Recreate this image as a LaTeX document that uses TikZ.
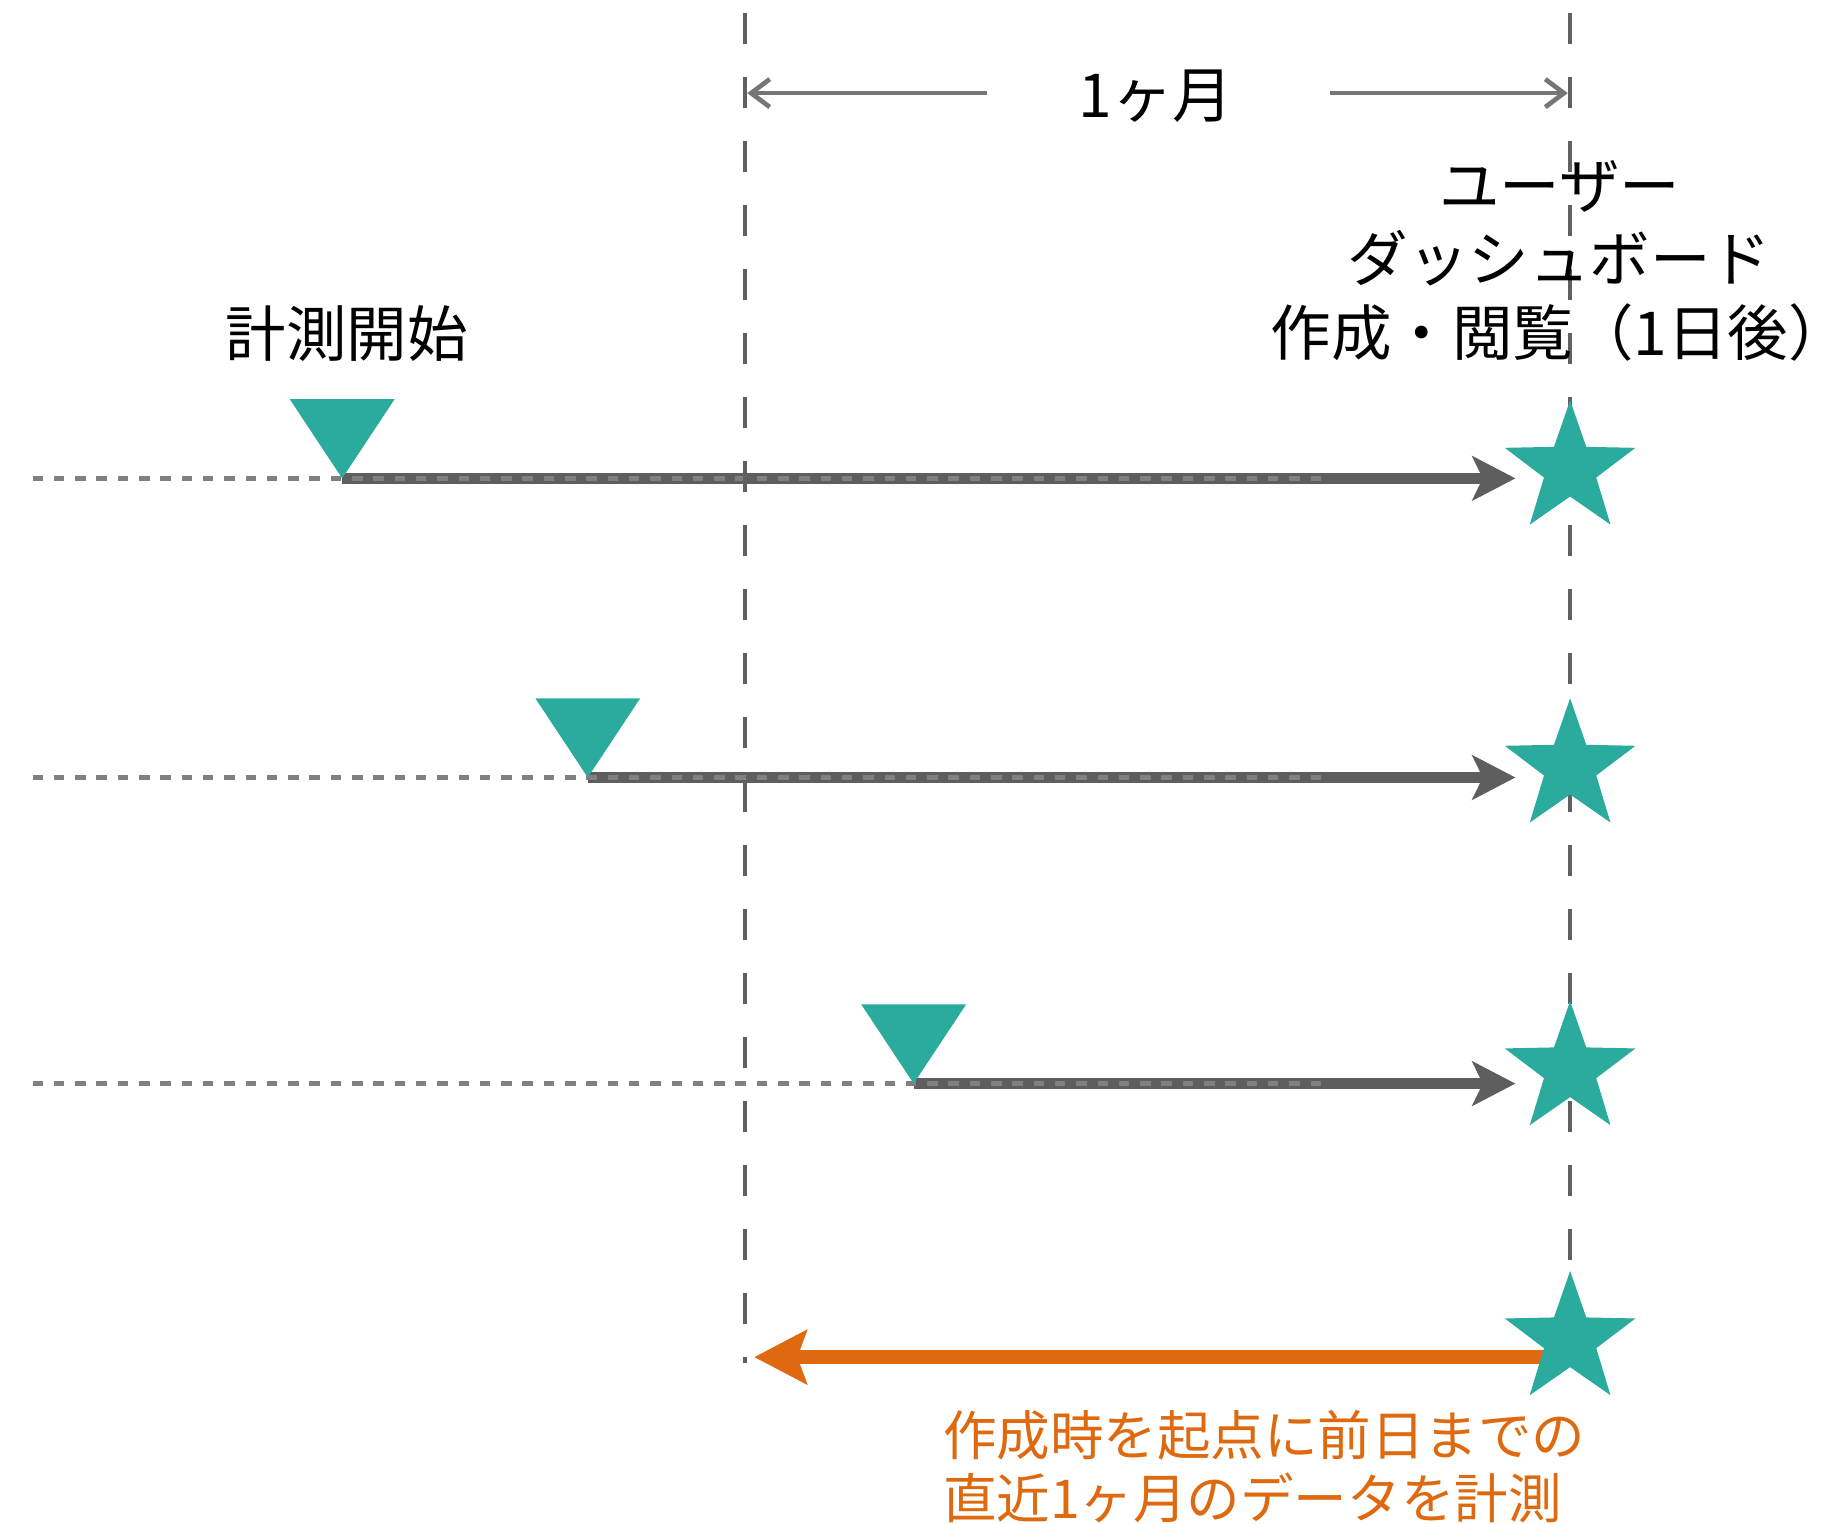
\documentclass[tikz,border=0pt]{standalone}
\usepackage{fontspec}
\setmainfont{Noto Sans CJK JP}
\usetikzlibrary{arrows.meta,shapes.geometric}
\definecolor{tealc}{HTML}{2BAA9E}
\definecolor{orangec}{HTML}{DE690E}
\definecolor{vlinec}{HTML}{606060}
\definecolor{dimc}{HTML}{767676}
\definecolor{arrc}{HTML}{5E5E5E}
\definecolor{dotc}{HTML}{808080}
\begin{document}
\begin{tikzpicture}[x=1pt,y=-1pt,
  vdash/.style={draw=vlinec, line width=4pt, dash pattern=on 26.6pt off 28.4pt},
  dimarrow/.style={draw=dimc, line width=4pt, -{Straight Barb[length=16pt,width=24pt]}},
  mainarrow/.style={draw=arrc, line width=9.5pt, shorten >=47pt, -{Stealth[length=37pt,width=38pt,inset=9pt]}},
  dotline/.style={draw=dotc, line width=4pt, dash pattern=on 9pt off 9.3pt},
  orarrow/.style={draw=orangec, line width=11.5pt, -{Stealth[length=45pt,width=46pt,inset=8pt]}},
  startmark/.style={fill=tealc},
  starmark/.style={star, star points=5, star point ratio=2.5, minimum size=118pt, inner sep=0pt, fill=tealc, draw=none},
  lbl/.style={font=\fontsize{52}{63}\selectfont, inner sep=0pt},
  olbl/.style={font=\fontsize{46}{54}\selectfont, text=orangec, inner sep=0pt, align=left}
]
\useasboundingbox (0,0) rectangle (1568,1309);

% coordinates
\coordinate (vLtop) at (640,11.2);
\coordinate (vLbot) at (640,1171);
\coordinate (vRtop) at (1349,11.2);
\coordinate (vRbot) at (1349,1120);
\coordinate (t1) at (294,411);
\coordinate (t2) at (505,668);
\coordinate (t3) at (785,931);
\coordinate (d1) at (28,411);
\coordinate (d2) at (28,668);
\coordinate (d3) at (28,931);
\coordinate (e1) at (1135,411);
\coordinate (e2) at (1135,668);
\coordinate (e3) at (1135,931);
\coordinate (gL) at (848,80);
\coordinate (gR) at (1143,80);
\coordinate (dL) at (642,80);
\coordinate (dR) at (1347,80);
\coordinate (os) at (1330,1166);
\coordinate (oe) at (648,1166);

% star positions (nodes drawn last)
\path (1349,403) coordinate (s1p) (1349,659) coordinate (s2p) (1349,919) coordinate (s3p) (1349,1151) coordinate (s4p);

% main arrows
\draw[mainarrow] (t1) -- (t1 -| s1p);
\draw[mainarrow] (t2) -- (t2 -| s2p);
\draw[mainarrow] (t3) -- (t3 -| s3p);

% dotted lines
\draw[dotline] (d1) -- (e1);
\draw[dotline] (d2) -- (e2);
\draw[dotline] (d3) -- (e3);

% vertical dashed lines
\draw[vdash] (vLtop) -- (vLbot);
\draw[vdash] (vRtop) -- (vRbot);

% dimension arrows
\draw[dimarrow] (gL) -- (dL);
\draw[dimarrow] (gR) -- (dR);
\node[lbl] (dim) at (993,83) {1ヶ月};

% orange arrow
\draw[orarrow] (os) -- (oe);

% triangles
\fill[startmark] (t1) -- ++(-45,-68) -- ++(90,0) -- cycle;
\fill[startmark] (t2) -- ++(-45,-68) -- ++(90,0) -- cycle;
\fill[startmark] (t3) -- ++(-45,-68) -- ++(90,0) -- cycle;

% stars
\node[starmark] (s1) at (s1p) {};
\node[starmark] (s2) at (s2p) {};
\node[starmark] (s3) at (s3p) {};
\node[starmark] (s4) at (s4p) {};

% labels
\node[lbl] (start) at (298,287) {計測開始};
\node[lbl, align=center] (dash) at (1340,224) {ユーザー\\ダッシュボード\\作成・閲覧（1日後）};
\node[olbl, anchor=west] (note) at (810,1260) {作成時を起点に前日までの\\直近1ヶ月のデータを計測};
\end{tikzpicture}
\end{document}
